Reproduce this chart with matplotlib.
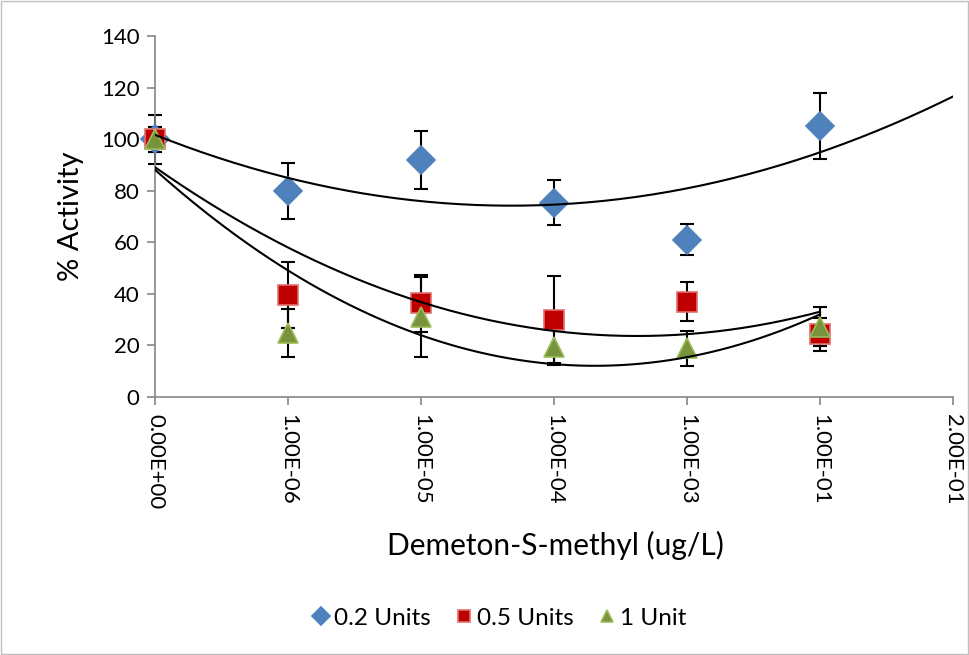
import numpy as np
import matplotlib
matplotlib.use("Agg")
import matplotlib.pyplot as plt
from matplotlib.patches import Rectangle

plt.rcParams['font.family'] = ['Lato', 'DejaVu Sans']

# concentrations (category axis) and activity per enzyme amount
labels = ["0.00E+00", "1.00E-06", "1.00E-05", "1.00E-04", "1.00E-03", "1.00E-01", "2.00E-01"]
act_02 = [100, 80, 92, 75.5, 61, 105.2]
err_02 = [9.5, 10.7, 11.3, 8.7, 6.0, 12.7]
act_05 = [100, 39.6, 36.4, 30, 37, 24.3]
err_05 = [5, 13, 11, 16.8, 7.5, 6.3]
act_1 = [100, 24.8, 31.2, 19.5, 18.9, 27.3]
err_1 = [5, 9.3, 15.5, 7, 6.7, 7.5]

fig = plt.figure(figsize=(9.7, 6.55), dpi=100)
ax = fig.add_axes([0.1598, 0.3939, 0.8227, 0.5504])

# light chart-area border
fig.patches.append(Rectangle((0.001, 0.002), 0.997, 0.996, transform=fig.transFigure,
                             fill=False, edgecolor="#BFBFBF", linewidth=1.0))

series = [
    (act_02, err_02, "D", "#4F81BD", "#4F81BD", 14.5, "0.2 Units", 1),
    (act_05, err_05, "s", "#C00000", "#E07070", 14, "0.5 Units", 0),
    (act_1, err_1, "^", "#77933C", "#9BBB59", 15, "1 Unit", 0),
]

x = np.arange(len(act_02))
for vals, errs, mk, fc, ec, ms, name, forward in series:
    eb = ax.errorbar(x, vals, yerr=errs, fmt="none", ecolor="black", elinewidth=1.5,
                     capsize=5, capthick=1.5, zorder=2)
    for art in eb.lines[1] + eb.lines[2]:
        art.set_clip_on(False)
    ax.plot(x, vals, linestyle="none", marker=mk, markersize=ms, markerfacecolor=fc,
            markeredgecolor=ec, markeredgewidth=1.2, label=name, zorder=3, clip_on=False)
    # second order polynomial trendline
    coef = np.polyfit(x, vals, 2)
    xt = np.linspace(0, len(vals) - 1 + forward, 200)
    ax.plot(xt, np.polyval(coef, xt), color="black", linewidth=1.5, zorder=4)

ax.set_xlim(0, 6)
ax.set_ylim(0, 140)
ax.set_yticks(range(0, 141, 20))
ax.set_xticks(range(len(labels)))
ax.set_xticklabels(labels, rotation=270, va="top", ha="center")

for side in ["top", "right"]:
    ax.spines[side].set_visible(False)
for side in ["left", "bottom"]:
    ax.spines[side].set_color("#868686")
    ax.spines[side].set_linewidth(1.2)
ax.tick_params(axis="both", colors="#868686", length=6, width=1.2, labelsize=16,
               labelcolor="black", direction="out")
ax.tick_params(axis="x", pad=6)
ax.tick_params(axis="y", pad=5)

ax.set_ylabel("% Activity", fontsize=21, labelpad=12)
fig.text(0.573, 0.168, "Demeton-S-methyl (ug/L)", fontsize=21.5, ha="center", va="center")

fig.legend(loc="center", bbox_to_anchor=(0.515, 0.056), ncol=3, frameon=False,
           fontsize=17.5, handlelength=0.7, handletextpad=0.2, columnspacing=1.0,
           markerscale=0.6)

fig.savefig("out.png", dpi=100)
